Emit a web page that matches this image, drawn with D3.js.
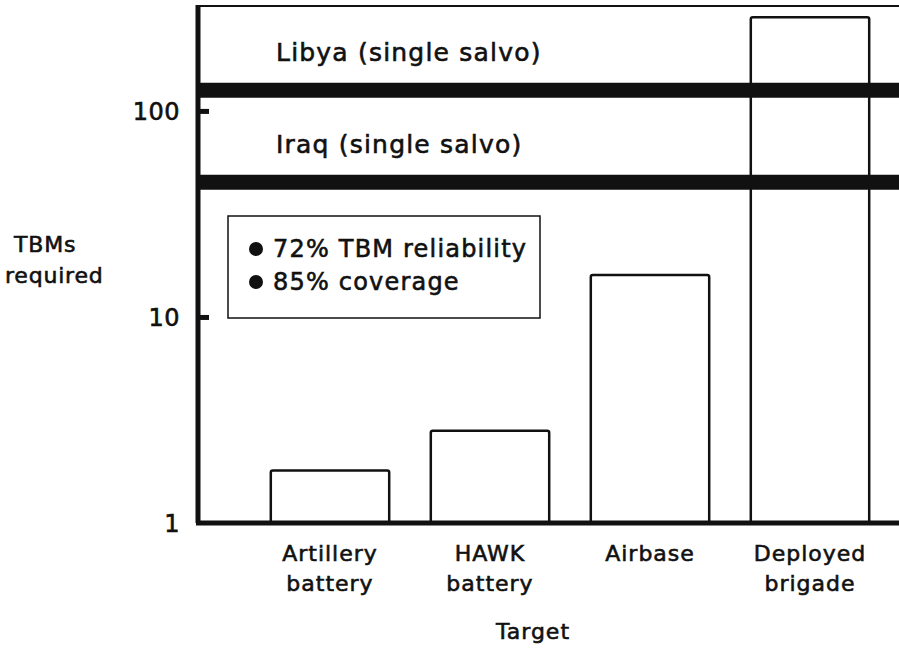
<!DOCTYPE html>
<html>
<head>
    <meta charset="utf-8">
    <title>TBMs required</title>
    <script src="https://d3js.org/d3.v7.min.js"></script>
    <style>
        body { margin: 0; background: #fff; }
        text { font-family: "DejaVu Sans", sans-serif; fill: #111; stroke: #111; stroke-width: 0.6px; }
    </style>
</head>
<body>
    <svg width="899" height="652" id="chart"></svg>
    <script>
        // values (log axis)
        const categories = [["Artillery", "battery"], ["HAWK", "battery"], ["Airbase"], ["Deployed", "brigade"]]
        const tbmsRequired = [1.8, 2.8, 16, 285]
        const salvoLabels = ["Libya (single salvo)", "Iraq (single salvo)"]
        const salvoValues = [126, 45]
        const yTicks = [1, 10, 100]
        const legendItems = ["72% TBM reliability", "85% coverage"]

        const svg = d3.select("#chart")
        const axisX = 198, baseY = 523, topY = 6

        const yScale = d3.scaleLog()
            .domain([1, 323])
            .range([baseY, topY])

        const xScale = d3.scaleBand()
            .domain(d3.range(categories.length))
            .range([250, 890])
            .paddingInner(0.26)
            .paddingOuter(0.13)

        // top frame line
        svg.append("line")
            .attr("x1", axisX).attr("x2", 899)
            .attr("y1", topY).attr("y2", topY)
            .attr("stroke", "#111").attr("stroke-width", 2)

        // bars
        svg.selectAll("rect.bar")
            .data(tbmsRequired)
            .enter()
            .append("rect")
            .attr("class", "bar")
            .attr("x", (d, i) => xScale(i))
            .attr("y", d => yScale(d))
            .attr("width", xScale.bandwidth())
            .attr("height", d => baseY - yScale(d))
            .attr("rx", 2)
            .attr("fill", "#fff")
            .attr("stroke", "#111")
            .attr("stroke-width", 2.5)

        // salvo bands
        svg.selectAll("line.salvo")
            .data(salvoValues)
            .enter()
            .append("line")
            .attr("class", "salvo")
            .attr("x1", axisX).attr("x2", 899)
            .attr("y1", d => yScale(d)).attr("y2", d => yScale(d))
            .attr("stroke", "#111").attr("stroke-width", 15)

        svg.selectAll("text.salvo")
            .data(salvoValues)
            .enter()
            .append("text")
            .attr("class", "salvo")
            .attr("x", 276)
            .attr("y", d => yScale(d) - 29)
            .attr("font-size", 25)
            .attr("letter-spacing", 1.2)
            .text((d, i) => salvoLabels[i])

        // y axis, ticks pointing inward
        const yAxis = d3.axisLeft(yScale)
            .tickValues(yTicks)
            .tickFormat(d3.format("d"))
            .tickSize(-11)
            .tickSizeOuter(0)
            .tickPadding(18)
        const gy = svg.append("g")
            .attr("transform", `translate(${axisX},0)`)
            .call(yAxis)
        gy.select(".domain").attr("stroke", "#111").attr("stroke-width", 5)
            .attr("d", `M0,${topY - 1}V${baseY}`)
        gy.selectAll(".tick line").attr("stroke", "#111").attr("stroke-width", 5)
        gy.selectAll(".tick text").attr("font-size", 24).attr("fill", "#111")
            .attr("font-family", "DejaVu Sans").attr("dy", "0.36em")
            .attr("letter-spacing", 0.5)
        gy.selectAll(".tick").filter(d => d === 1).select("line").remove()

        // x axis baseline
        svg.append("line")
            .attr("x1", axisX - 2).attr("x2", 899)
            .attr("y1", baseY).attr("y2", baseY)
            .attr("stroke", "#111").attr("stroke-width", 5)

        // category labels
        const catText = svg.selectAll("text.cat")
            .data(categories)
            .enter()
            .append("text")
            .attr("class", "cat")
            .attr("text-anchor", "middle")
            .attr("font-size", 22)
            .attr("letter-spacing", 1)
        catText.selectAll("tspan")
            .data((d, i) => d.map(t => ({ t: t, i: i })))
            .enter()
            .append("tspan")
            .attr("x", d => xScale(d.i) + xScale.bandwidth() / 2)
            .attr("y", (d, j) => 561 + j * 30)
            .text(d => d.t)

        svg.append("text")
            .attr("x", 533).attr("y", 639)
            .attr("text-anchor", "middle")
            .attr("font-size", 22)
            .attr("letter-spacing", 1)
            .text("Target")

        // y title
        svg.append("text")
            .attr("font-size", 22)
            .attr("letter-spacing", 0.8)
            .selectAll("tspan")
            .data(["TBMs", "required"])
            .enter()
            .append("tspan")
            .attr("x", (d, i) => i === 0 ? 14 : 5)
            .attr("y", (d, i) => 252 + i * 31)
            .text(d => d)

        // legend box
        const lg = svg.append("g")
        lg.append("rect")
            .attr("x", 228).attr("y", 216)
            .attr("width", 312).attr("height", 102)
            .attr("fill", "#fff")
            .attr("stroke", "#111").attr("stroke-width", 1.5)
        legendItems.forEach((t, i) => {
            lg.append("circle")
                .attr("cx", 256).attr("cy", 249 + i * 33)
                .attr("r", 7).attr("fill", "#111")
            lg.append("text")
                .attr("x", 273).attr("y", 257 + i * 33)
                .attr("font-size", 24)
                .attr("letter-spacing", 1.2)
                .text(t)
        })
    </script>
</body>
</html>
